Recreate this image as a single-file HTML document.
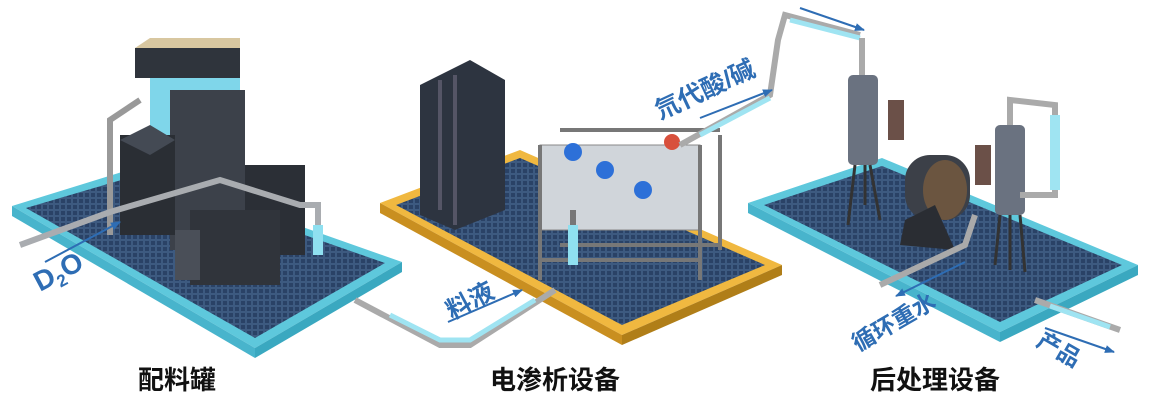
<!DOCTYPE html>
<html><head><meta charset="utf-8"><style>
body{margin:0;background:#fff;width:1157px;height:408px;overflow:hidden}
svg{display:block}
text{font-family:"Liberation Sans","Noto Sans CJK SC",sans-serif}
</style></head><body>
<svg width="1157" height="408" viewBox="0 0 1157 408">
<defs>
<pattern id="g" width="6" height="6" patternUnits="userSpaceOnUse"><rect width="6" height="6" fill="#3d5a80"/><rect x="1" y="1" width="4" height="4" fill="#2a4266"/></pattern>
<marker id="ah" markerWidth="10" markerHeight="8" refX="9" refY="4" orient="auto" markerUnits="userSpaceOnUse"><path d="M0,0 L10,4 L0,8 z" fill="#2e6db4"/></marker>
</defs>
<!-- left platform -->
<polygon points="12,206 135,168 402,262 255,348" fill="#5ec8dc"/>
<polygon points="255,348 402,262 402,272 255,358" fill="#3aa8c0"/>
<polygon points="12,206 255,348 255,358 12,216" fill="#48b4cc"/>
<polygon points="26,208 135,176 385,263 255,338" fill="url(#g)"/>
<!-- middle platform -->
<polygon points="380,203 520,150 782,265 622,335" fill="#f0b840"/>
<polygon points="380,203 622,335 622,345 380,213" fill="#c98f20"/>
<polygon points="622,335 782,265 782,275 622,345" fill="#b07e18"/>
<polygon points="396,205 520,158 765,265 622,325" fill="url(#g)"/>
<!-- right platform -->
<polygon points="748,203 882,158 1138,265 1000,332" fill="#5ec8dc"/>
<polygon points="748,203 1000,332 1000,342 748,213" fill="#48b4cc"/>
<polygon points="1000,332 1138,265 1138,275 1000,342" fill="#3aa8c0"/>
<polygon points="764,205 882,166 1122,265 1000,322" fill="url(#g)"/>

<!-- left equipment -->
<rect x="135" y="48" width="105" height="30" fill="#2f343c"/>
<polygon points="135,48 150,38 240,38 240,48" fill="#d8c7a0"/>
<rect x="150" y="78" width="90" height="60" fill="#7fd6ea"/>
<rect x="170" y="90" width="75" height="160" fill="#3c414a"/>
<rect x="120" y="135" width="55" height="100" fill="#2a2e34"/>
<polygon points="120,140 150,125 175,140 150,155" fill="#444a54"/>
<rect x="245" y="165" width="60" height="90" fill="#2b2f36"/>
<rect x="190" y="210" width="90" height="75" fill="#30343b"/>
<rect x="175" y="230" width="25" height="50" fill="#4a4f58"/>
<path d="M110,235 L110,120 L140,100" stroke="#999" stroke-width="6" fill="none"/>
<path d="M20,245 L110,212 L220,180 L300,205 L318,205 L318,255" stroke="#a9acb0" stroke-width="6" fill="none"/>
<rect x="313" y="225" width="10" height="30" fill="#8fe0f0"/>
<!-- middle equipment -->
<polygon points="420,85 470,60 505,80 505,210 455,230 420,215" fill="#2d3440"/>
<path d="M440,80 L440,210 M455,75 L455,225" stroke="#556" stroke-width="4"/>
<rect x="540" y="145" width="160" height="85" fill="#d0d5da" stroke="#888"/>
<path d="M540,145 L540,280 M700,145 L700,280 M720,135 L720,250 M560,130 L720,130" stroke="#777" stroke-width="4" fill="none"/>
<path d="M540,260 L700,260 M560,245 L720,245" stroke="#777" stroke-width="4"/>
<circle cx="573" cy="152" r="9" fill="#2d70d8"/><circle cx="605" cy="170" r="9" fill="#2d70d8"/><circle cx="643" cy="190" r="9" fill="#2d70d8"/>
<circle cx="672" cy="142" r="8" fill="#d8503c"/>
<path d="M573,210 L573,265" stroke="#777" stroke-width="6"/>
<rect x="568" y="225" width="10" height="40" fill="#8fe0f0"/>
<path d="M355,300 L440,345 L470,345 L555,290" stroke="#aaa" stroke-width="6" fill="none"/>
<path d="M390,315 L440,340 L470,340 L535,300" stroke="#9fe4f2" stroke-width="5" fill="none"/>
<path d="M680,145 L770,95 L778,40 L785,15 L860,35" stroke="#aaa" stroke-width="6" fill="none"/>
<path d="M700,135 L770,98" stroke="#9fe4f2" stroke-width="5"/>
<path d="M790,20 L860,38" stroke="#9fe4f2" stroke-width="5"/>
<!-- right equipment -->
<path d="M862,38 L862,75" stroke="#aaa" stroke-width="6"/>
<rect x="848" y="75" width="30" height="90" rx="5" fill="#6a7280"/>
<path d="M855,165 L848,225 M870,165 L880,220 M865,165 L865,205" stroke="#333" stroke-width="3"/>
<rect x="888" y="100" width="16" height="40" fill="#6b5048"/>
<rect x="905" y="155" width="65" height="65" rx="25" fill="#3c4048"/>
<ellipse cx="945" cy="190" rx="22" ry="30" fill="#6b5540"/>
<polygon points="905,220 935,205 955,250 900,245" fill="#2a2d33"/>
<rect x="975" y="145" width="16" height="40" fill="#6b5048"/>
<rect x="995" y="125" width="30" height="90" rx="5" fill="#6a7280"/>
<path d="M1010,215 L1010,270 M1000,215 L995,265 M1020,215 L1025,272" stroke="#333" stroke-width="3"/>
<path d="M1010,125 L1010,100 L1055,105 L1055,195 L1020,195" stroke="#aaa" stroke-width="6" fill="none"/>
<rect x="1050" y="115" width="10" height="75" fill="#9fe4f2"/>
<path d="M880,285 L965,245 L975,215" stroke="#aaa" stroke-width="6" fill="none"/>
<path d="M1035,300 L1120,330" stroke="#aaa" stroke-width="6"/>
<path d="M1050,306 L1110,327" stroke="#9fe4f2" stroke-width="5"/>

<!-- arrows & labels -->
<g stroke="#2e6db4" stroke-width="2" marker-end="url(#ah)">
<line x1="45" y1="262" x2="120" y2="222"/>
<line x1="448" y1="322" x2="522" y2="290"/>
<line x1="700" y1="118" x2="772" y2="90"/>
<line x1="800" y1="8" x2="864" y2="30"/>
<line x1="965" y1="262" x2="896" y2="296"/>
<line x1="1045" y1="328" x2="1114" y2="352"/>
</g>
<g fill="#2e6db4" font-weight="bold">
<text x="40" y="292" font-size="28" transform="rotate(-28 40 292)">D<tspan font-size="17" dy="6">2</tspan><tspan dy="-6">O</tspan></text>
<text x="452" y="320" font-size="25" transform="rotate(-28 452 320)">料液</text>
<text x="660" y="120" font-size="25" transform="rotate(-25 660 120)">氘代酸/碱</text>
<text x="858" y="352" font-size="23" transform="rotate(-30 858 352)">循环重水</text>
<text x="1035" y="345" font-size="23" transform="rotate(30 1035 345)">产品</text>
</g>
<g font-size="26" font-weight="bold" fill="#111">
<text x="138" y="389">配料罐</text>
<text x="490" y="389">电渗析设备</text>
<text x="870" y="389">后处理设备</text>
</g>
</svg>
</body></html>
